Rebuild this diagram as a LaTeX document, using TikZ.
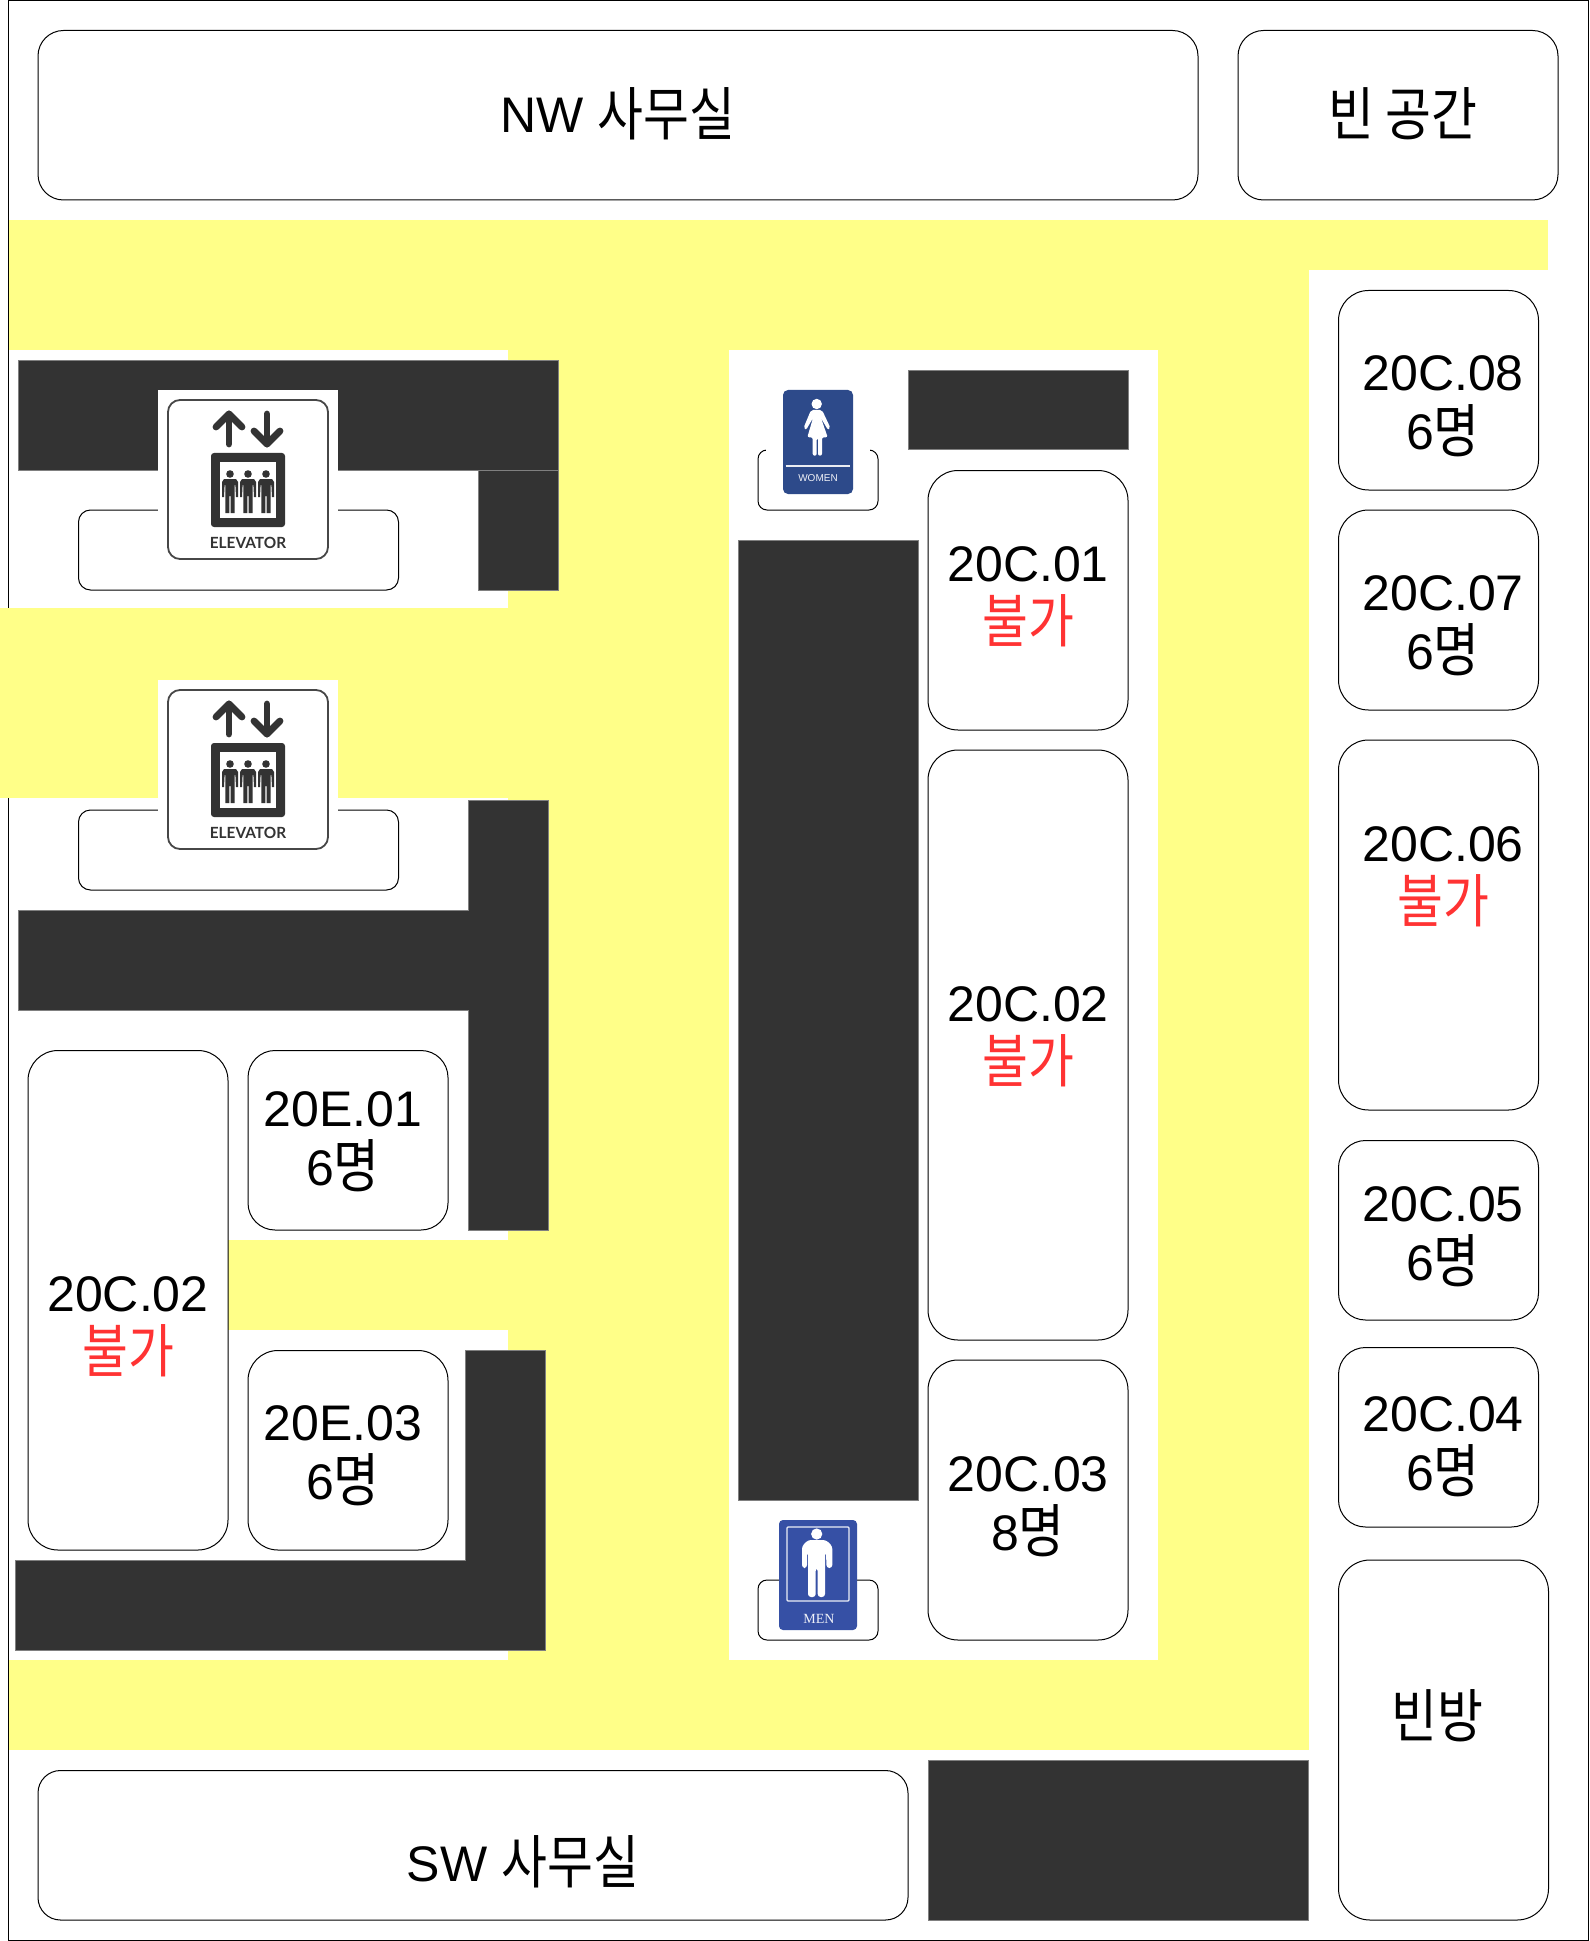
\documentclass[tikz,border=0pt]{standalone}
\usepackage{fontspec}
\setmainfont{Liberation Sans}
\newfontfamily\krfont[Scale=1.16,FakeStretch=0.86]{Noto Sans CJK KR}
\newfontfamily\latofont{Lato}
\newfontfamily\serffont{Liberation Serif}
\definecolor{corridor}{HTML}{FFFF88}
\definecolor{blocked}{HTML}{333333}
\definecolor{blockedge}{HTML}{808080}
\definecolor{nogo}{HTML}{FF3333}
\definecolor{iconink}{HTML}{333333}
\definecolor{womenblue}{HTML}{2D4A8A}
\definecolor{menblue}{HTML}{3650A5}
\newcommand{\hg}[1]{\raisebox{-1.2pt}{\krfont #1}}
\newcommand{\twolines}[2]{\vtop{\halign{\hfil##\hfil\cr #1\cr #2\cr}}}
\newcommand{\nogotext}{\textcolor{nogo}{\hg{불가}}}
\tikzset{
  walk/.style={fill=corridor,draw=none},
  clear/.style={fill=white,draw=none},
  block/.style={fill=blocked,draw=blockedge,line width=0.5pt},
  room/.style={draw=black,fill=white,line width=0.5pt},
  label/.style={anchor=base,inner sep=0pt,font=\fontsize{25}{29.5}\selectfont},
  ink/.style={draw=iconink,line width=3.4pt,line cap=round,line join=round},
}
\newcommand{\elevatoricon}[2]{%
  \begin{scope}[shift={(0,#2)}]
    \fill[white] (158,390) rectangle (338,575);
    \draw[draw=iconink!90,fill=white,line width=0.9pt,rounded corners=6pt] (168,400) rectangle (328,559);
    \draw[ink] (229,444) -- (229,414);
    \draw[ink] (216,427) -- (229,414) -- (242,427);
    \draw[ink] (267,414) -- (267,444);
    \draw[ink] (254,431) -- (267,444) -- (280,431);
    \fill[iconink,rounded corners=1.5pt] (211,453) rectangle (285,527);
    \fill[white] (220,462) rectangle (276,518);
    \foreach \cx in {230,248,266}{
      \begin{scope}[shift={(\cx,474)}]
        \fill[iconink] (0,0) circle[radius=1.9pt];
        \fill[iconink] (-8,23) -- (-8,8) -- (-6,5) -- (6,5) -- (8,8) -- (8,23) -- (6,23) -- (5.4,11) -- (4.6,11) -- (4.6,39) -- (0.7,39) -- (0.7,22) -- (-0.7,22) -- (-0.7,39) -- (-4.6,39) -- (-4.6,11) -- (-5.4,11) -- (-6,23) -- cycle;
      \end{scope}
    }
    \node[anchor=base,inner sep=0pt,text=iconink,font=\latofont\bfseries\fontsize{7.7}{8}\selectfont] (#1) at (248,548) {ELEVATOR};
  \end{scope}
}
\begin{document}
\begin{tikzpicture}[x=0.5pt,y=-0.5pt]
\useasboundingbox (0,0) rectangle (1589,1941);
\fill[white] (0,0) rectangle (1589,1941);
% outer frame
\draw[draw=black,line width=0.5pt] (8,0.5) rectangle (1588,1940);
% corridors
\path[walk] (8.5,220) rectangle (1548,270);
\path[walk] (8.5,220) rectangle (1309,350);
\path[walk] (508,220) rectangle (1309,1750);
\path[walk] (0,608) rectangle (600,797.5);
\path[walk] (228,1240) rectangle (600,1330);
\path[walk] (8.5,1660) rectangle (1309,1750);
% central island
\path[clear] (728.5,350) rectangle (1158,1660);
% blocked areas
\draw[block] (18,360.5) rectangle (558.5,470);
\draw[block] (478,470) rectangle (558.5,590);
\draw[block] (468,800) -- (548,800) -- (548,1230) -- (468,1230) -- (468,1010) -- (18,1010) -- (18,910) -- (468,910) -- cycle;
\draw[block] (15,1560) -- (465,1560) -- (465,1350) -- (545,1350) -- (545,1650) -- (15,1650) -- cycle;
\draw[block] (908,370.5) rectangle (1128,450);
\draw[block] (738,540) rectangle (918.5,1500);
\draw[block] (928,1760) rectangle (1308.5,1920);
% rooms
\draw[room,rounded corners=12.75pt] (38,30.5) rectangle (1198,200);
\draw[room,rounded corners=12.75pt] (1238,30.5) rectangle (1558,200);
\draw[room,rounded corners=15pt] (1338.5,290.5) rectangle (1538.5,490);
\draw[room,rounded corners=15pt] (1338.5,510) rectangle (1538.5,710);
\draw[room,rounded corners=15pt] (1338.5,740) rectangle (1538.5,1110);
\draw[room,rounded corners=13.5pt] (1338.5,1140.5) rectangle (1538.5,1320);
\draw[room,rounded corners=13.5pt] (1338.5,1347.5) rectangle (1538.5,1527);
\draw[room,rounded corners=15.75pt] (1338.5,1560) rectangle (1548.5,1920);
\draw[room,rounded corners=15pt] (928,470.5) rectangle (1128,730);
\draw[room,rounded corners=15pt] (928,750) rectangle (1128,1340);
\draw[room,rounded corners=15pt] (928,1360) rectangle (1128,1640);
\draw[room,rounded corners=15pt] (28,1050.5) rectangle (228,1550);
\draw[room,rounded corners=13.5pt] (248,1050.5) rectangle (448,1230);
\draw[room,rounded corners=15pt] (248,1350.5) rectangle (448,1550);
\draw[room,rounded corners=11.25pt] (38,1770.5) rectangle (908,1920);
\draw[room,rounded corners=6pt] (78.5,510) rectangle (398.5,590);
\draw[room,rounded corners=6pt] (78.5,810) rectangle (398.5,890);
\draw[room,rounded corners=4.5pt] (758,450) rectangle (878,510);
\draw[room,rounded corners=4.5pt] (758,1580) rectangle (878,1640);
% elevator signs
\elevatoricon{elevatorN}{0}
\elevatoricon{elevatorS}{290}
% women sign
\fill[white] (766,385) rectangle (870,497);
\fill[womenblue,rounded corners=2.5pt] (783,390) rectangle (853,494);
\fill[white] (816.7,404) circle[radius=2.6pt];
\fill[white,rounded corners=1pt] (811,410) -- (822,410) -- (830.5,428) -- (828,430) -- (821,418) -- (827.7,437.3) -- (822,437.3) -- (822,455.7) -- (818,455.7) -- (818,438) -- (816.7,438) -- (816.7,455.7) -- (812.7,455.7) -- (812.7,437.3) -- (807.3,437.3) -- (813,418) -- (806,430) -- (803.5,428) -- cycle;
\draw[white!90!womenblue,line width=0.8pt] (785.7,466) -- (850,466);
\node[anchor=base,inner sep=0pt,text=white!92!womenblue,font=\fontsize{5}{6}\selectfont] (womenlabel) at (818,481) {WOMEN};
% men sign
\fill[menblue,rounded corners=2pt] (779,1520) rectangle (857,1630);
\draw[white!90!menblue,line width=0.6pt,rounded corners=0.5pt] (787,1527) rectangle (849,1601);
\fill[white] (816.7,1534) circle[radius=2.8pt];
\fill[white,rounded corners=1.5pt] (802,1568) -- (802,1546) -- (808,1540) -- (826,1540) -- (832.3,1546) -- (832.3,1568) -- (826.5,1568) -- (826,1552) -- (825,1552) -- (825,1597) -- (817.7,1597) -- (817.7,1568) -- (815.7,1568) -- (815.7,1597) -- (808,1597) -- (808,1552) -- (807,1552) -- (807,1568) -- cycle;
\node[anchor=base,inner sep=0pt,text=white!92!menblue,font=\serffont\fontsize{7}{8}\selectfont] (menlabel) at (819,1623) {MEN};
% room labels
\node[label] (nwoffice) at (618,133) {NW \hg{사무실}};
\node[label] (emptyspace) at (1403,133) {\hg{빈 공간}};
\node[label] (c08) at (1443,391) {\twolines{20C.08}{6\hg{명}}};
\node[label] (c07) at (1443,610) {\twolines{20C.07}{6\hg{명}}};
\node[label] (c06) at (1443,861) {\twolines{20C.06}{\nogotext}};
\node[label] (c05) at (1443,1221) {\twolines{20C.05}{6\hg{명}}};
\node[label] (c04) at (1443,1431) {\twolines{20C.04}{6\hg{명}}};
\node[label] (emptyroom) at (1437,1735) {\hg{빈방}};
\node[label] (c01) at (1028,581) {\twolines{20C.01}{\nogotext}};
\node[label] (c02) at (1028,1021) {\twolines{20C.02}{\nogotext}};
\node[label] (c03) at (1028,1491) {\twolines{20C.03}{8\hg{명}}};
\node[label] (c02w) at (128,1311) {\twolines{20C.02}{\nogotext}};
\node[label] (e01) at (343,1126) {\twolines{20E.01}{6\hg{명}}};
\node[label] (e03) at (343,1440) {\twolines{20E.03}{6\hg{명}}};
\node[label] (swoffice) at (523,1881) {SW \hg{사무실}};
\end{tikzpicture}
\end{document}
